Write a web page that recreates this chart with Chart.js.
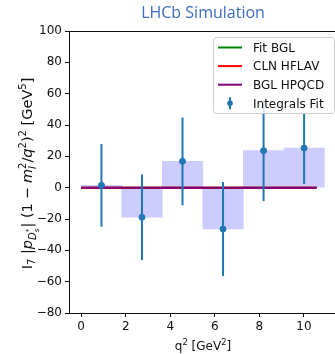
<!DOCTYPE html>
<html>
<head>
<meta charset="utf-8">
<script src="https://cdn.jsdelivr.net/npm/chart.js@4.4.1/dist/chart.umd.min.js"></script>
<style>
  html, body { margin: 0; padding: 0; background: #fff; overflow: hidden; }
  #wrap { width: 335px; height: 354px; overflow: hidden; }
</style>
</head>
<body>
<div id="wrap"><canvas id="chart" width="345" height="354"></canvas></div>
<script>
"use strict";

// bins in q^2 and the integrals fit results
const binCenters = [0.91, 2.73, 4.55, 6.37, 8.19, 10.01];
const integralValues = [1.5, -18.9, 16.8, -26.4, 23.6, 25.3];
const integralErrors = [26.4, 27.3, 28.0, 30.0, 32.1, 22.9];

// model curves (flat at zero over the q^2 range)
const curveQ2 = [0, 10.57];
const fitBGL = [0, 0];
const clnHFLAV = [0, 0];
const bglHPQCD = [0, 0];

const xTicks = [0, 2, 4, 6, 8, 10];
const yTicks = [-80, -60, -40, -20, 0, 20, 40, 60, 80, 100];

const FONT = "'DejaVu Sans', sans-serif";
const BLUE = "#1f77b4";

function curve(values) {
  return curveQ2.map((x, i) => ({ x, y: values[i] }));
}

function errorBarPoints() {
  const pts = [];
  binCenters.forEach((x, i) => {
    pts.push({ x, y: integralValues[i] - integralErrors[i] });
    pts.push({ x, y: integralValues[i] + integralErrors[i] });
    pts.push({ x, y: null });
  });
  return pts;
}

// draws a run of text pieces (sub/superscripts, gaps) left to right
function drawRich(ctx, segs, x, y, align) {
  const widths = [];
  let total = 0;
  let stacked = 0;
  segs.forEach((s) => {
    ctx.font = `${s.italic ? "italic " : ""}${s.size || 12}px ${FONT}`;
    const w = s.gap !== undefined ? s.gap : ctx.measureText(s.t).width;
    widths.push(w);
    if (s.stack) { stacked = w; return; }
    total += Math.max(w, stacked);
    stacked = 0;
  });
  let cx = align === "center" ? x - total / 2 : x;
  stacked = 0;
  segs.forEach((s, i) => {
    if (s.gap === undefined) {
      ctx.font = `${s.italic ? "italic " : ""}${s.size || 12}px ${FONT}`;
      ctx.fillText(s.t, cx, y + (s.dy || 0));
    }
    if (s.stack) { stacked = widths[i]; return; }
    cx += Math.max(widths[i], stacked);
    stacked = 0;
  });
}

const B = 14.5;   // y label size
const S = 10;     // script size
const SS = 7.2;   // second level script

const decorations = {
  id: "decorations",
  afterDraw(chart) {
    const ctx = chart.ctx;
    const area = chart.chartArea;
    const mid = (area.left + area.right) / 2;
    ctx.save();
    ctx.textBaseline = "alphabetic";
    ctx.textAlign = "left";

    // title
    ctx.fillStyle = "#3d6cc3";
    ctx.font = "16px 'Open Sans', sans-serif";
    ctx.textAlign = "center";
    ctx.fillText("LHCb Simulation", mid, 18);
    ctx.textAlign = "left";

    // x label
    ctx.fillStyle = "#111";
    drawRich(ctx, [
      { t: "q" }, { t: "2", size: 8.4, dy: -5 },
      { t: " [GeV" }, { t: "2", size: 8.4, dy: -5 }, { t: "]" }
    ], mid, 350, "center");

    // y label
    ctx.save();
    ctx.translate(32, 173.5);
    ctx.rotate(-Math.PI / 2);
    drawRich(ctx, [
      { t: "I", size: B }, { t: "7", size: S, dy: 3 },
      { t: " |", size: B },
      { t: "p", italic: true, size: B },
      { t: "D", italic: true, size: S, dy: 3.5 },
      { t: "s", italic: true, size: SS, dy: 6.5, stack: true }, { t: "*", size: SS, dy: -1 },
      { gap: 1 },
      { t: "| (1", size: B }, { gap: 4 },
      { t: "\u2212", size: B }, { gap: 4 },
      { t: "m", italic: true, size: B },
      { t: "l", italic: true, size: S, dy: 3.5, stack: true }, { t: "2", size: S, dy: -6 },
      { t: "/", size: B }, { t: "q", italic: true, size: B }, { t: "2", size: S, dy: -6 },
      { t: ")", size: B }, { t: "2", size: S, dy: -6 },
      { t: " [GeV", size: B }, { t: "5", size: S, dy: -6 }, { t: "]", size: B }
    ], 0, 0, "center");
    ctx.restore();

    // legend box, matplotlib style
    const box = { x: 213, y: 37, w: 121, h: 76 };
    ctx.beginPath();
    ctx.roundRect(box.x + 0.5, box.y + 0.5, box.w, box.h, 3);
    ctx.fillStyle = "rgba(255,255,255,0.8)";
    ctx.fill();
    ctx.strokeStyle = "#cccccc";
    ctx.lineWidth = 1;
    ctx.stroke();

    const entries = chart.data.datasets.filter((d) => d.legendKind);
    entries.sort((a, b) => a.legendRank - b.legendRank);
    ctx.font = `12px ${FONT}`;
    entries.forEach((d, i) => {
      const y = 47.5 + i * 18.6;
      if (d.legendKind === "line") {
        ctx.strokeStyle = d.borderColor;
        ctx.lineWidth = 2;
        ctx.beginPath();
        ctx.moveTo(218, y);
        ctx.lineTo(242, y);
        ctx.stroke();
      } else {
        ctx.strokeStyle = BLUE;
        ctx.lineWidth = 2;
        ctx.beginPath();
        ctx.moveTo(230, y - 6);
        ctx.lineTo(230, y + 6);
        ctx.stroke();
        ctx.fillStyle = BLUE;
        ctx.beginPath();
        ctx.arc(230, y, 2.8, 0, Math.PI * 2);
        ctx.fill();
      }
      ctx.fillStyle = "#111";
      ctx.fillText(d.label, 253, y + 4.3);
    });
    ctx.restore();
  }
};

const lineStyle = (color, order) => ({
  type: "line",
  borderColor: color,
  borderWidth: 2,
  pointRadius: 0,
  fill: false,
  order
});

new Chart(document.getElementById("chart"), {
  data: {
    datasets: [
      {
        type: "bar",
        label: "bins",
        data: binCenters.map((x, i) => ({ x, y: integralValues[i] })),
        backgroundColor: "#ccccff",
        borderWidth: 0,
        barPercentage: 1,
        categoryPercentage: 1,
        order: 6
      },
      { ...lineStyle("#008000", 5), label: "Fit BGL", data: curve(fitBGL), legendKind: "line", legendRank: 0 },
      { ...lineStyle("#ff0000", 4), label: "CLN HFLAV", data: curve(clnHFLAV), legendKind: "line", legendRank: 1 },
      { ...lineStyle("#800080", 3), label: "BGL HPQCD", data: curve(bglHPQCD), legendKind: "line", legendRank: 2 },
      {
        type: "line",
        label: "errors",
        data: errorBarPoints(),
        borderColor: BLUE,
        borderWidth: 2,
        pointRadius: 0,
        spanGaps: false,
        order: 1
      },
      {
        type: "scatter",
        label: "Integrals Fit",
        data: binCenters.map((x, i) => ({ x, y: integralValues[i] })),
        backgroundColor: BLUE,
        borderColor: BLUE,
        pointRadius: 3,
        order: 0,
        legendKind: "errorbar",
        legendRank: 3
      }
    ]
  },
  options: {
    responsive: false,
    devicePixelRatio: 1,
    animation: false,
    layout: { padding: { top: 31, right: 8, bottom: 0, left: 0 } },
    plugins: { legend: { display: false }, tooltip: { enabled: false } },
    scales: {
      x: {
        type: "linear",
        position: "bottom",
        offset: false,
        min: -0.547,
        max: 11.487,
        afterFit: (s) => { s.height = 41; },
        afterBuildTicks: (s) => { s.ticks = xTicks.map((v) => ({ value: v })); },
        grid: { offset: false, drawOnChartArea: false, drawTicks: true, tickLength: 4, tickColor: "#111" },
        border: { display: true, color: "#111", width: 1 },
        ticks: { color: "#111", padding: 3, font: { family: FONT, size: 12 }, maxRotation: 0 }
      },
      xTop: {
        type: "linear",
        position: "top",
        min: 0,
        max: 1,
        afterFit: (s) => { s.height = 0; },
        grid: { display: false },
        border: { display: true, color: "#111", width: 1 },
        ticks: { display: false }
      },
      y: {
        type: "linear",
        min: -80,
        max: 100,
        afterFit: (s) => { s.width = 69; },
        afterBuildTicks: (s) => { s.ticks = yTicks.map((v) => ({ value: v })); },
        grid: { drawOnChartArea: false, drawTicks: true, tickLength: 4, tickColor: "#111" },
        border: { display: true, color: "#111", width: 1 },
        ticks: {
          color: "#111",
          padding: 3,
          font: { family: FONT, size: 12 },
          callback: (v) => String(v).replace("-", "\u2212")
        }
      }
    }
  },
  plugins: [decorations]
});
</script>
</body>
</html>
